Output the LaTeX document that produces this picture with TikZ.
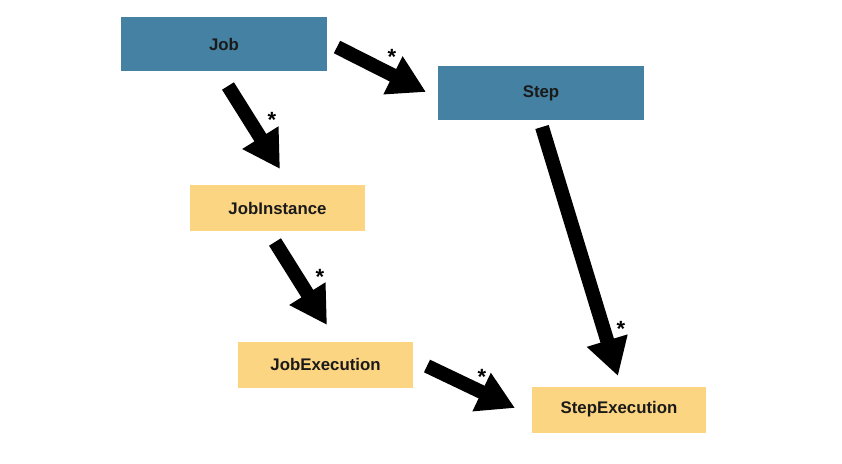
\documentclass[tikz,border=0pt]{standalone}
\usepackage{fontspec}
\setmainfont{Liberation Sans}
\usetikzlibrary{arrows.meta}
\definecolor{boxblue}{HTML}{4481A2}
\definecolor{boxyellow}{HTML}{FCD582}
\definecolor{txt}{HTML}{1A1A1A}
\begin{document}
\begin{tikzpicture}[x=1pt,y=-1pt,
  bluebox/.style={fill=boxblue,draw=none,inner sep=0pt,font=\bfseries\fontsize{16.8}{18}\selectfont,text=txt},
  yelbox/.style={fill=boxyellow,draw=none,inner sep=0pt,font=\bfseries\fontsize{16.8}{18}\selectfont,text=txt},
  bigarrow/.style={line width=14pt,-{Triangle[length=37pt,width=40pt]},black},
  star/.style={font=\bfseries\fontsize{22}{24}\selectfont,inner sep=0pt}]
\useasboundingbox (0,0) rectangle (842,463);
\fill[white] (0,0) rectangle (842,463);
\node[bluebox,minimum width=206pt,minimum height=54pt] (job) at (224,44) {Job};
\node[bluebox,minimum width=206pt,minimum height=54pt] (step) at (541,93) {Step};
\node[yelbox,minimum width=175pt,minimum height=46pt] (ji) at (277.5,208) {JobInstance};
\node[yelbox,minimum width=175pt,minimum height=46pt] (je) at (325.5,364.5) {JobExecution};
\node[yelbox,minimum width=174pt,minimum height=46pt] (se) at (619,409.5) {StepExecution};
% arrow endpoints
\coordinate (a1s) at (337,47); \coordinate (a1e) at (426,92);
\coordinate (a2s) at (228,86); \coordinate (a2e) at (280,169);
\coordinate (a3s) at (275,242); \coordinate (a3e) at (327,325);
\coordinate (a4s) at (427,366); \coordinate (a4e) at (515,408);
\coordinate (a5s) at (542,127); \coordinate (a5e) at (618,376);
\draw[bigarrow] (a1s) -- (a1e);
\draw[bigarrow] (a2s) -- (a2e);
\draw[bigarrow] (a3s) -- (a3e);
\draw[bigarrow] (a4s) -- (a4e);
\draw[bigarrow] (a5s) -- (a5e);
\node[star] (s1) at (392,57) {*};
\node[star] (s2) at (272,120) {*};
\node[star] (s3) at (320,277) {*};
\node[star] (s4) at (482,377) {*};
\node[star] (s5) at (621,329) {*};
\end{tikzpicture}
\end{document}
